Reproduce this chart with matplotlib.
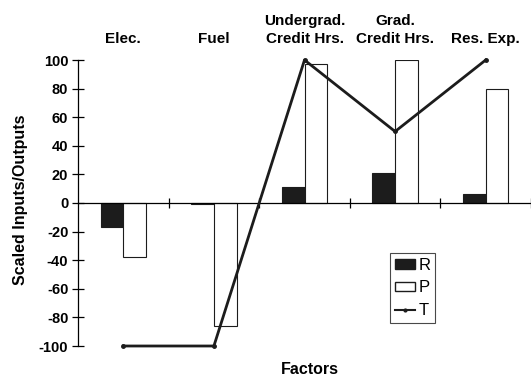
import matplotlib
matplotlib.use("Agg")
import matplotlib.pyplot as plt
from matplotlib.patches import Patch
from matplotlib.lines import Line2D
import numpy as np

categories = ["Elec.", "Fuel", "Undergrad.\nCredit Hrs.", "Grad.\nCredit Hrs.", "Res. Exp."]
R_values = [-17, -1, 11, 21, 6]
P_values = [-38, -86, 97, 100, 80]
T_values = [-100, -100, 100, 50, 100]
y_ticks = [-100, -80, -60, -40, -20, 0, 20, 40, 60, 80, 100]

plt.rcParams['font.family'] = ['Liberation Sans', 'DejaVu Sans']
plt.rcParams['font.weight'] = 'bold'

W, H = 531, 377
fig = plt.figure(figsize=(W/100, H/100), dpi=100)
left_px, right_px, top_px, bot_px = 78, 531, 60, 346
ax = fig.add_axes([left_px/W, 1-bot_px/H, (right_px-left_px)/W, (bot_px-top_px)/H])

x = np.arange(len(categories))
bw = 0.25
ax.bar(x - bw/2, R_values, width=bw, color='#1c1c1c', edgecolor='#1c1c1c', linewidth=0.8, label='R', zorder=2)
ax.bar(x + bw/2, P_values, width=bw, color='white', edgecolor='#1c1c1c', linewidth=0.8, label='P', zorder=2)
ax.plot(x, T_values, color='#1c1c1c', linewidth=2, marker='o', markersize=2.5, label='T', zorder=3, clip_on=False)

ax.set_xlim(-0.5, (right_px-left_px)/92 - 0.5)
ax.set_ylim(-100, 100)

ax.spines['top'].set_visible(False)
ax.spines['right'].set_visible(False)
ax.spines['bottom'].set_position(('data', 0))
ax.spines['left'].set_linewidth(0.9)
ax.spines['bottom'].set_linewidth(0.9)

ax.set_yticks(y_ticks)
ax.set_yticklabels([str(v) for v in y_ticks], fontsize=10.5, fontweight='bold')
ax.tick_params(axis='y', direction='inout', length=8, width=0.9, pad=3)
ax.set_xticks(np.arange(len(categories)) + 0.5)
ax.set_xticklabels([])
ax.tick_params(axis='x', direction='inout', length=7, width=0.9)

for xi, lab in zip(x, categories):
    ax.text(xi, 1.0 + 14/(bot_px-top_px), lab, transform=ax.get_xaxis_transform(),
            ha='center', va='bottom', fontsize=11, fontweight='bold', linespacing=1.35)

fig.text(21/W, 1-200/H, "Scaled Inputs/Outputs", rotation=90, ha='center', va='center',
         fontsize=11.5, fontweight='bold')
fig.text(310/W, 1-369/H, "Factors", ha='center', va='center', fontsize=11.5, fontweight='bold')

handles = [Patch(facecolor='#1c1c1c', edgecolor='#1c1c1c'),
           Patch(facecolor='white', edgecolor='#1c1c1c'),
           Line2D([0], [0], color='#1c1c1c', linewidth=1.5, marker='o', markersize=2)]
leg = fig.legend(handles, ['R', 'P', 'T'], loc='upper left',
                 bbox_to_anchor=(390/W, 1-253/H), frameon=True, fancybox=False,
                 fontsize=12, handlelength=1.2, handleheight=0.5, handletextpad=0.2,
                 borderpad=0.3, labelspacing=0.45, borderaxespad=0)
leg.get_frame().set_edgecolor('#1c1c1c')
leg.get_frame().set_linewidth(0.8)
for t in leg.get_texts():
    t.set_fontweight('normal')

fig.savefig("out.png", dpi=100)
